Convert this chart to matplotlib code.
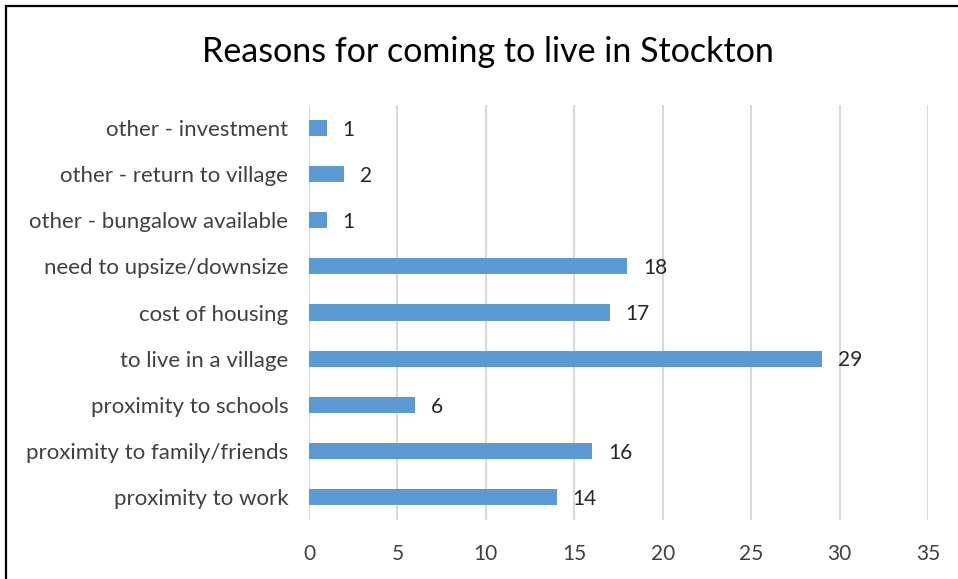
import matplotlib
matplotlib.use('Agg')
import matplotlib.pyplot as plt
from matplotlib.patches import Rectangle

# data, top to bottom as in the chart
reasons = ['other - investment', 'other - return to village', 'other - bungalow available',
           'need to upsize/downsize', 'cost of housing', 'to live in a village',
           'proximity to schools', 'proximity to family/friends', 'proximity to work']
counts = [1, 2, 1, 18, 17, 29, 6, 16, 14]
xticks = [0, 5, 10, 15, 20, 25, 30, 35]

plt.rcParams['font.family'] = ['Lato', 'DejaVu Sans']

fig = plt.figure(figsize=(9.58, 5.79), dpi=100)
ax = fig.add_axes([309/958, 1-520/579, (928-309)/958, (520-105)/579])

# reverse so first item is on top
ypos = list(range(len(reasons)))[::-1]
ax.barh(ypos, counts, height=0.35, color='#5B9BD5', zorder=3)
for y, v in zip(ypos, counts):
	ax.text(v + 0.9, y - 0.04, str(v), va='center', ha='left', fontsize=15, color='#262626')

ax.set_xlim(0, 35)
ax.set_ylim(-0.5, len(reasons) - 0.5)
ax.set_xticks(xticks)
ax.set_yticks(ypos)
ax.set_yticklabels(reasons)
ax.grid(axis='x', color='#D9D9D9', linewidth=1.5, zorder=0)
ax.tick_params(length=0, labelsize=15, colors='#404040')
ax.tick_params(axis='y', pad=15, labelsize=16)
ax.tick_params(axis='x', pad=17)
for s in ax.spines.values():
	s.set_visible(False)

fig.text(488/958, 1-52/579, 'Reasons for coming to live in Stockton', ha='center', va='center',
		 fontsize=24.5, color='#000000')

# outer frame (cut off on the right and bottom)
fig.patches.append(Rectangle((6/958, -0.1), 1.2, 1 - 6/579 + 0.1, transform=fig.transFigure,
							 fill=False, edgecolor='black', linewidth=1.6))

fig.savefig('out.png', dpi=100)
